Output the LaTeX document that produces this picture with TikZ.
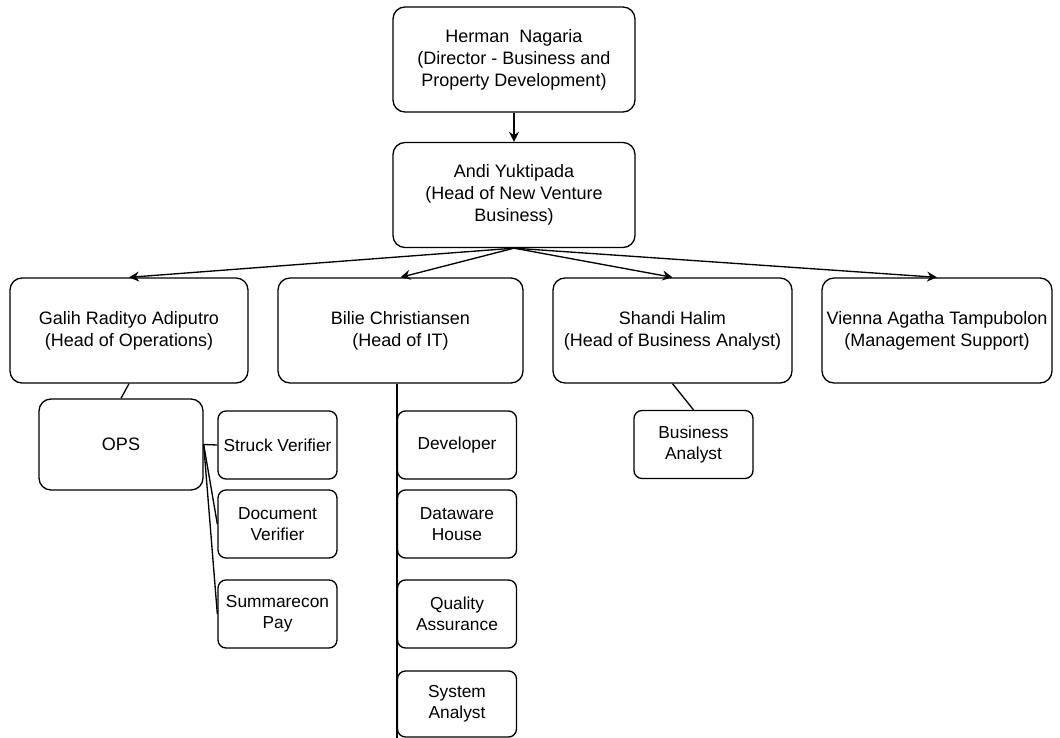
\documentclass[tikz,border=0pt]{standalone}
\usepackage{fontspec}
\setmainfont{Liberation Sans}
\usetikzlibrary{arrows.meta}
\begin{document}
\begin{tikzpicture}[x=0.75pt,y=-0.75pt,
    box/.style={draw=black,line width=1pt,rounded corners=9pt,align=center,inner sep=0pt,
      font=\fontsize{13.5}{16.5}\selectfont,minimum width=180pt,minimum height=78.75pt},
    unit/.style={box,rounded corners=6pt,font=\fontsize{13}{15.5}\selectfont,
      minimum width=89.25pt,minimum height=51pt},
    link/.style={line width=1pt},
    down/.style={link,-{Stealth[length=7.5pt,width=7.5pt,inset=2.5pt]}}]
    \useasboundingbox (0,0) rectangle (1060,738);
    % top of the chart
    \node [box,minimum width=181.5pt] (herman) at (514,59.5) {Herman~~Nagaria\\(Director - Business and\\Property Development)};
    \node [box,minimum width=181.5pt] (andi) at (514,195) {Andi Yuktipada\\(Head of New Venture\\Business)};
    \draw [down] (herman) -- (andi);
    % heads
    \node [box,minimum width=178.5pt] (galih) at (129,330.5) {Galih Radityo Adiputro\\(Head of Operations)};
    \node [box,minimum width=183.75pt] (bilie) at (400.5,330.5) {Bilie Christiansen\\(Head of IT)};
    \node [box,minimum width=179.25pt] (shandi) at (672.5,330.5) {Shandi Halim\\(Head of Business Analyst)};
    \node [box,minimum width=172.5pt] (vienna) at (937,330.5) {Vienna Agatha Tampubolon\\(Management Support)};
    \foreach \head in {galih,bilie,shandi,vienna}
      \draw [down] (andi.south) -- (\head.north);
    % operations
    \node [box,minimum width=123pt,minimum height=68.25pt] (ops) at (121,444.5) {OPS};
    \node [unit] (struck) at (277.5,445) {Struck Verifier};
    \node [unit] (docver) at (277.5,524) {Document\\Verifier};
    \node [unit] (sumpay) at (277.5,614) {Summarecon\\Pay};
    \draw [link] (galih.south) -- (ops.north);
    \foreach \u in {struck,docver,sumpay}
      \draw [link] (ops.east) -- (\u.west);
    % IT
    \node [unit] (dev) at (457,445) {Developer};
    \node [unit] (dwh) at (457,524) {Dataware\\House};
    \node [unit] (qa) at (457,614) {Quality\\Assurance};
    \node [unit,minimum height=49.5pt] (sysan) at (457,704) {System\\Analyst};
    \draw [link] (bilie.south -| dev.west) -- (sysan.south west);
    % business analyst
    \node [unit] (ba) at (693.5,444.5) {Business\\Analyst};
    \draw [link] (shandi.south) -- (ba.north);
\end{tikzpicture}
\end{document}
